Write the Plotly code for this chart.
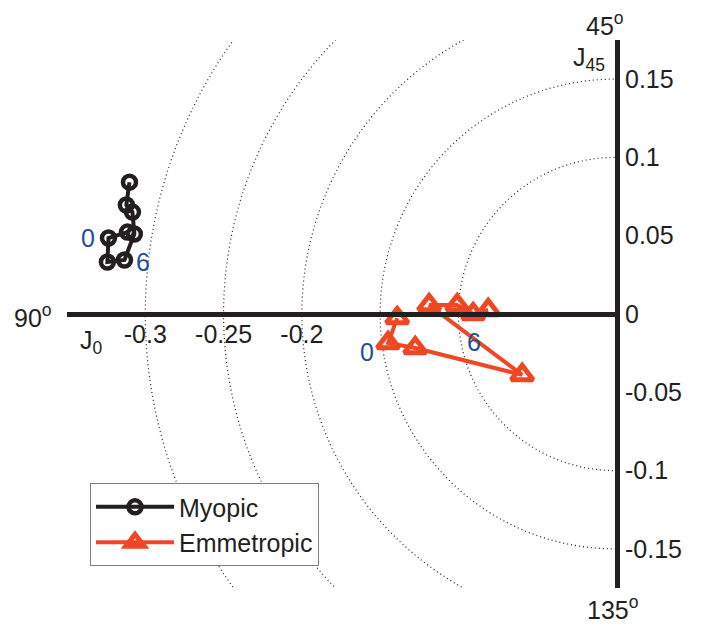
import plotly.graph_objects as go

# ---- data (J0, J45) ----
myopic_j0 = [-0.3101, -0.3121, -0.3082, -0.3070, -0.3133, -0.3242, -0.3235, -0.3114]
myopic_j45 = [0.0842, 0.0696, 0.0651, 0.0511, 0.0345, 0.0332, 0.0485, 0.0523]
emm_j0 = [-0.1391, -0.1449, -0.1276, -0.0593, -0.1187, -0.1008, -0.0906, -0.0810]
emm_j45 = [-0.0026, -0.0185, -0.0217, -0.0389, 0.0057, 0.0057, 0.0000, 0.0026]
ring_radii = [0.10, 0.15, 0.20, 0.25, 0.30]
x_ticks = [-0.30, -0.25, -0.20]
x_tick_text = ["-0.3", "-0.25", "-0.2"]
y_ticks = [0.15, 0.10, 0.05, 0.0, -0.05, -0.10, -0.15]
y_tick_text = ["0.15", "0.1", "0.05", "0", "-0.05", "-0.1", "-0.15"]

BLACK = "#231f20"
RED = "#ef4723"
BLUE = "#1f4e9c"
FONT = "Liberation Sans, Arial, sans-serif"
FS = 25

fig = go.Figure()

fig.add_trace(go.Scatter(
    x=myopic_j0, y=myopic_j45, mode="lines+markers", name="Myopic",
    line=dict(color=BLACK, width=4),
    marker=dict(symbol="circle-open", size=13, color=BLACK, line=dict(width=4.5, color=BLACK)),
    cliponaxis=False,
))
fig.add_trace(go.Scatter(
    x=emm_j0, y=emm_j45, mode="lines+markers", name="Emmetropic",
    line=dict(color=RED, width=4),
    marker=dict(symbol="triangle-up-open", size=19, color=RED, line=dict(width=5, color=RED)),
    cliponaxis=False,
))

shapes = []
for r in ring_radii:
    shapes.append(dict(type="circle", xref="x", yref="y", x0=-r, x1=r, y0=-r, y1=r,
                       line=dict(color=BLACK, width=1.2, dash="1px,3px"), layer="below"))
fig.update_layout(shapes=shapes)

annotations = [
    dict(x=myopic_j0[6], y=myopic_j45[6], text="0", xshift=-20, yshift=0),
    dict(x=myopic_j0[4], y=myopic_j45[4], text="6", xshift=19, yshift=-2),
    dict(x=emm_j0[1], y=emm_j45[1], text="0", xshift=-21, yshift=-9),
    dict(x=emm_j0[6], y=emm_j45[6], text="6", xshift=1, yshift=-28),
]
for a in annotations:
    a.update(xref="x", yref="y", showarrow=False, font=dict(family=FONT, size=FS, color=BLUE))

annotations += [
    dict(x=-0.062, y=0.496, text="90<sup>o</sup>"),
    dict(x=0.982, y=1.030, text="45<sup>o</sup>"),
    dict(x=0.996, y=-0.037, text="135<sup>o</sup>"),
    dict(x=0.044, y=0.448, text="J<sub>0</sub>"),
    dict(x=0.952, y=0.966, text="J<sub>45</sub>"),
]
for a in annotations[4:]:
    a.update(xref="paper", yref="paper", xanchor="center", yanchor="middle",
             showarrow=False, font=dict(family=FONT, size=FS, color=BLACK))
fig.update_layout(annotations=annotations)

fig.update_layout(
    width=693, height=619,
    margin=dict(l=59, r=86, t=32, b=39),
    paper_bgcolor="white", plot_bgcolor="white",
    font=dict(family=FONT, size=FS, color=BLACK),
    showlegend=True,
    legend=dict(x=0.042, y=0.04, xanchor="left", yanchor="bottom",
                bordercolor="#7f7f7f", borderwidth=1, bgcolor="white",
                itemwidth=78, font=dict(family=FONT, size=FS, color=BLACK)),
    xaxis=dict(range=[-0.35, 0], showgrid=False, zeroline=False, automargin=False,
               showline=True, linewidth=5, linecolor=BLACK,
               anchor="free", position=0.5,
               tickmode="array", tickvals=x_ticks, ticktext=x_tick_text,
               ticks="", ticklabelstandoff=-4,
               tickfont=dict(family=FONT, size=FS, color=BLACK)),
    yaxis=dict(range=[-0.175, 0.175], showgrid=False, zeroline=False, automargin=False,
               showline=True, linewidth=5, linecolor=BLACK, side="right",
               tickmode="array", tickvals=y_ticks, ticktext=y_tick_text,
               ticks="", tickfont=dict(family=FONT, size=FS, color=BLACK)),
)

fig.write_html("out.html")
